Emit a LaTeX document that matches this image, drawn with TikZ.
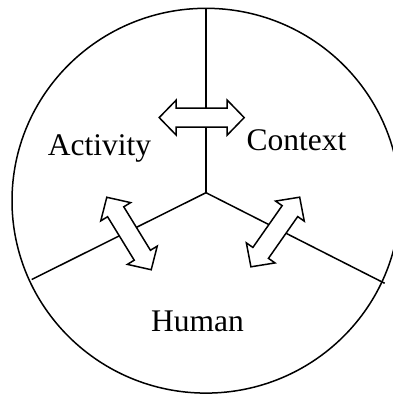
\documentclass[tikz,border=0pt]{standalone}
\usepackage{fontspec}
\setmainfont{Liberation Serif}
\begin{document}
\begin{tikzpicture}[x=1pt,y=-1pt,
  stroke/.style={line width=1.5pt,black},
  label/.style={font=\fontsize{31.5}{36}\selectfont,inner sep=0pt,anchor=base},
  blockarrow/.style={stroke,fill=white,line join=miter}]
\useasboundingbox (0,0) rectangle (393,394);
\begin{scope}
\clip (0,0) rectangle (393,394);
\draw[stroke] (206,200.7) ellipse [x radius=194, y radius=192.4];
\end{scope}
\coordinate (J) at (206,192.7);
\coordinate (T) at (206,8);
\coordinate (L) at (31.7,279.5);
\coordinate (R) at (384.7,283.3);
\draw[stroke] (J) -- (T);
\draw[stroke] (J) -- (L);
\draw[stroke] (J) -- (R);
\def\blockarr{(-42.5,0) -- (-25.5,-17.5) -- (-25.5,-9.5) -- (25.5,-9.5) -- (25.5,-17.5) -- (42.5,0) -- (25.5,17.5) -- (25.5,9.5) -- (-25.5,9.5) -- (-25.5,17.5) -- cycle}
\draw[blockarrow,shift={(201.7,117.6)}] \blockarr;
\draw[blockarrow,shift={(129,233.5)},rotate=-58.5] \blockarr;
\draw[blockarrow,shift={(275.3,232)},rotate=55] \blockarr;
\node[label] (activity) at (99.5,155) {Activity};
\node[label] (context) at (296.4,150) {Context};
\node[label] (human) at (197.5,331.7) {Human};
\end{tikzpicture}
\end{document}
